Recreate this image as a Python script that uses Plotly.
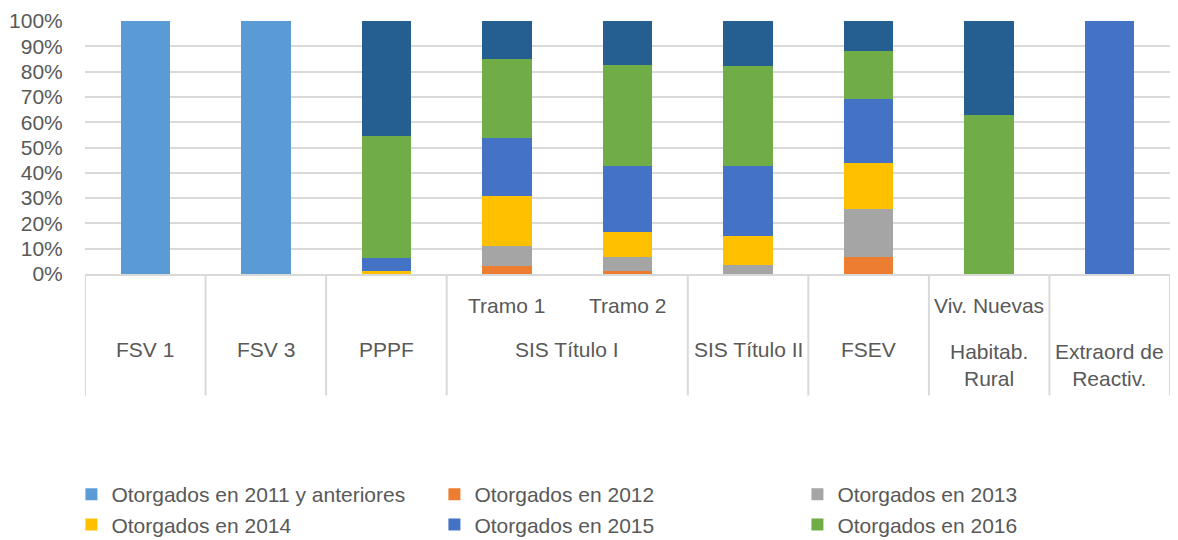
import plotly.graph_objects as go

# one bar per programme / tranche
bars = ["FSV 1", "FSV 3", "PPPF", "Tramo 1", "Tramo 2", "SIS Título II",
        "FSEV", "Viv. Nuevas", "Extraord de Reactiv."]

# shares (fraction of each bar)
y2011 = [1.0, 1.0, 0, 0, 0, 0, 0, 0, 0]
y2012 = [0, 0, 0, 0.033, 0.012, 0, 0.066, 0, 0]
y2013 = [0, 0, 0, 0.079, 0.054, 0.036, 0.192, 0, 0]
y2014 = [0, 0, 0.012, 0.195, 0.102, 0.116, 0.180, 0, 0]
y2015 = [0, 0, 0.050, 0.231, 0.259, 0.275, 0.255, 0, 1.0]
y2016 = [0, 0, 0.485, 0.310, 0.401, 0.396, 0.190, 0.628, 0]
y_rest = [0, 0, 0.453, 0.152, 0.172, 0.177, 0.117, 0.372, 0]

series = [
    ("Otorgados en 2011 y anteriores", y2011, "#5B9BD5", True),
    ("Otorgados en 2012", y2012, "#ED7D31", True),
    ("Otorgados en 2013", y2013, "#A5A5A5", True),
    ("Otorgados en 2014", y2014, "#FFC000", True),
    ("Otorgados en 2015", y2015, "#4472C4", True),
    ("Otorgados en 2016", y2016, "#70AD47", True),
    ("Otros", y_rest, "#255E91", False),
]

# axis labels: inner row (sub-categories) and outer row (programmes)
inner_labels = {3: "Tramo 1", 4: "Tramo 2", 7: "Viv. Nuevas"}
outer_labels = [(0, "FSV 1"), (1, "FSV 3"), (2, "PPPF"), (3.5, "SIS Título I"),
                (5, "SIS Título II"), (6, "FSEV"), (7, "Habitab.<br>Rural"),
                (8, "Extraord de<br>Reactiv.")]
dividers = [-0.5, 0.5, 1.5, 2.5, 4.5, 5.5, 6.5, 7.5, 8.5]

FONT = "Liberation Sans"
GREY = "#595959"
LINE = "#D9D9D9"

fig = go.Figure()
for name, vals, color, show in series:
    fig.add_trace(go.Bar(
        x=bars, y=vals, name=name, marker=dict(color=color, line=dict(width=0)),
        width=0.41, showlegend=show,
    ))

for x, t in inner_labels.items():
    fig.add_annotation(x=x, y=-0.123, xref="x", yref="paper", text=t,
                       showarrow=False, yanchor="middle",
                       font=dict(family=FONT, size=21, color=GREY))
for x, t in outer_labels:
    two = "<br>" in t
    fig.add_annotation(x=x, y=-0.360 if two else -0.300, xref="x", yref="paper",
                       text=t, showarrow=False, yanchor="middle",
                       font=dict(family=FONT, size=21, color=GREY))
for d in dividers:
    fig.add_shape(type="line", xref="x", yref="paper", x0=d, x1=d, y0=0,
                  y1=-0.48, line=dict(color=LINE, width=2))

# the page body adds an 8px offset, so the figure is sized to fit inside it
fig.update_layout(
    barmode="stack",
    width=1170, height=532,
    margin=dict(l=77, r=8, t=13, b=266),
    plot_bgcolor="white", paper_bgcolor="white",
    font=dict(family=FONT, size=21, color=GREY),
    xaxis=dict(type="category", range=[-0.5, 8.5], showticklabels=False,
               showgrid=False, showline=True, linecolor=LINE, linewidth=2,
               zeroline=False, automargin=False),
    yaxis=dict(range=[0, 1], tickvals=[i / 10 for i in range(11)],
               tickformat=".0%", showgrid=True, gridcolor=LINE, gridwidth=2,
               zeroline=False, ticks="outside", ticklen=17,
               tickcolor="rgba(0,0,0,0)", automargin=False,
               ticklabeloverflow="allow",
               tickfont=dict(family=FONT, size=21, color=GREY)),
    legend=dict(orientation="h", xref="container", yref="container",
                x=0.0542, y=0.124, xanchor="left", yanchor="top",
                entrywidth=318, entrywidthmode="pixels",
                traceorder="normal",
                font=dict(family=FONT, size=21, color=GREY)),
    bargap=0.59,
)

fig.write_html("out.html")
